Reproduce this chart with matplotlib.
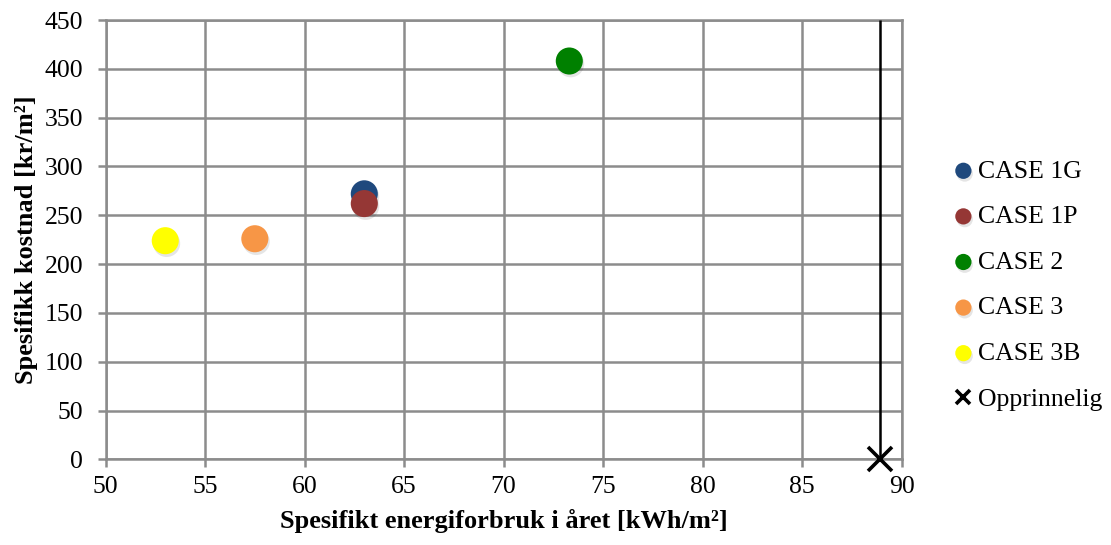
import matplotlib.pyplot as plt
import matplotlib.patheffects as pe

# specific energy use [kWh/m2] and specific cost [kr/m2] per case
cases = ['CASE 1G', 'CASE 1P', 'CASE 2', 'CASE 3', 'CASE 3B']
energy = [63.0, 63.0, 73.3, 57.5, 53.0]
cost = [272, 262, 408, 226, 224]
colors = ['#1f497d', '#953735', '#008000', '#f79646', '#ffff00']

# original building
orig_energy = 88.9
orig_cost = 0

plt.rcParams['font.family'] = ['Liberation Serif', 'DejaVu Serif']

fig = plt.figure(figsize=(11.11, 5.45), dpi=100)
ax = fig.add_axes([0.095, 0.157, 0.7166, 0.8063])

shadow = [pe.SimplePatchShadow(offset=(1, -2), shadow_rgbFace='#000000', alpha=0.1), pe.Normal()]
for name, x, y, c in zip(cases, energy, cost, colors):
    sc = ax.scatter([x], [y], s=380, color=c, label=name, zorder=3, linewidths=0)
    sc.set_path_effects(shadow)

ax.vlines(orig_energy, 0, 450, color='black', lw=1.8, zorder=4)
ax.plot([orig_energy], [orig_cost], marker='x', ms=17, mew=2.6, color='black',
        linestyle='none', label='Opprinnelig', zorder=5, clip_on=False)

ax.set_xlim(50, 90)
ax.set_ylim(0, 450)
ax.set_xticks(range(50, 91, 5))
ax.set_yticks(range(0, 451, 50))
ax.grid(True, color='#8c8c8c', lw=1.8)
ax.set_axisbelow(True)
for sp in ax.spines.values():
    sp.set_color('#8c8c8c')
    sp.set_linewidth(1.8)
ax.tick_params(direction='out', length=6, width=1.8, color='#8c8c8c', labelsize=18.5)
ax.tick_params(axis='y', pad=10)
ax.tick_params(axis='x', pad=6)

ax.set_xlabel('Spesifikt energiforbruk i året [kWh/m²]', fontsize=19,
              fontweight='bold', labelpad=8)
ax.set_ylabel('Spesifikk kostnad [kr/m²]', fontsize=19,
              fontweight='bold', labelpad=5)

leg = ax.legend(loc='center left', bbox_to_anchor=(0.844, 0.477), bbox_transform=fig.transFigure,
                frameon=False, fontsize=18.5, handletextpad=-0.45, labelspacing=0.88,
                markerscale=0.6, borderaxespad=0, borderpad=0)

fig.savefig('out.png', dpi=100)
